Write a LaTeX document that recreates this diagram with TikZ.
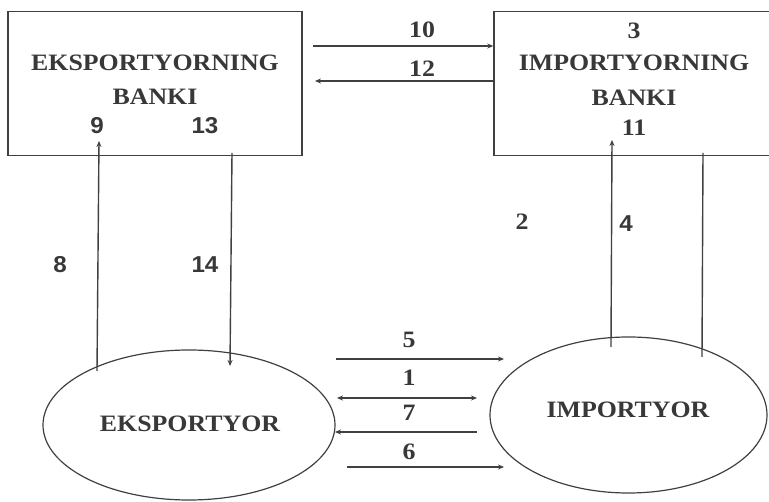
\documentclass[tikz,border=0pt]{standalone}
\usepackage{fontspec}
\setmainfont{Liberation Serif}[FakeStretch=1.1]
\newfontfamily\numsans{Liberation Sans}[FakeStretch=1.05]
\usetikzlibrary{arrows.meta,shapes.geometric}
\definecolor{ink}{HTML}{404040}
\definecolor{txt}{HTML}{383838}
\tikzset{
  conn/.style={draw=ink, line width=1.4pt},
  tip/.style={-{Stealth[length=6pt,width=5pt]}},
  lbl/.style={text=txt, font=\fontsize{23.5}{26}\selectfont\bfseries, inner sep=0pt},
  lbls/.style={text=txt, font=\fontsize{23}{26}\selectfont\numsans\bfseries, inner sep=0pt},
  boxst/.style={draw=ink, line width=1.4pt, rectangle, inner sep=0pt},
  ellst/.style={draw=ink, line width=1.2pt, ellipse, inner sep=0pt}
}
\begin{document}
\begin{tikzpicture}[x=1pt,y=-1pt]
\useasboundingbox (0,0) rectangle (769,502);
% boxes
\node[boxst, minimum width=294pt, minimum height=144pt] (eb) at (155,83.5) {};
\node[boxst, minimum width=281pt, minimum height=144pt] (ib) at (634.5,83.5) {};
% ellipses
\node[ellst, minimum width=292pt, minimum height=150pt] (ex) at (189,425) {};
\node[ellst, minimum width=277pt, minimum height=156pt] (im) at (628.5,415) {};
% texts
\node[lbl] (t1) at (155,63) {EKSPORTYORNING};
\node[lbl] (t2) at (155,97) {BANKI};
\node[lbls] (n9) at (97,126) {9};
\node[lbls] (n13) at (205,126) {13};
\node[lbl] (n3) at (634,31) {3};
\node[lbl] (t3) at (634,63) {IMPORTYORNING};
\node[lbl] (t4) at (634,98) {BANKI};
\node[lbl] (n11) at (634,128) {11};
\node[lbl] (t5) at (190,424) {EKSPORTYOR};
\node[lbl] (t6) at (628,410) {IMPORTYOR};
\node[lbl] (n10) at (422,30) {10};
\node[lbl] (n12) at (422,69) {12};
\node[lbls] (n8) at (60,265) {8};
\node[lbls] (n14) at (205,265) {14};
\node[lbl] (n2) at (522,222) {2};
\node[lbls] (n4) at (626,224) {4};
\node[lbl] (n5) at (409,340) {5};
\node[lbl] (n1) at (409,378) {1};
\node[lbl] (n7) at (409,413) {7};
\node[lbl] (n6) at (409,452) {6};
% connector coordinates
\coordinate (a10s) at (313,46);
\coordinate (a12e) at (315,81);
\coordinate (a8s) at (97,371);
\coordinate (a8e) at (99,141);
\coordinate (a14s) at (232,153);
\coordinate (a14e) at (230,366);
\coordinate (a4s) at (611,347);
\coordinate (a4e) at (612,140);
\coordinate (arS) at (703,153);
\coordinate (arE) at (702,357);
\coordinate (a5s) at (336,359);
\coordinate (a5e) at (504,359);
\coordinate (a1s) at (337,398);
\coordinate (a1e) at (477,398);
\coordinate (a7s) at (477,432);
\coordinate (a7e) at (335,432);
\coordinate (a6s) at (347,467);
\coordinate (a6e) at (504,467);
% connectors
\draw[conn,tip] (a10s) -- (ib.west |- a10s);
\draw[conn,tip] (ib.west |- a12e) -- (a12e);
\draw[conn,tip] (a8s) -- (a8e);
\draw[conn,tip] (a14s) -- (a14e);
\draw[conn,tip] (a4s) -- (a4e);
\draw[conn] (arS) -- (arE);
\draw[conn,tip] (a5s) -- (a5e);
\draw[conn,{Stealth[length=6pt,width=5pt]}-{Stealth[length=6pt,width=5pt]}] (a1s) -- (a1e);
\draw[conn,tip] (a7s) -- (a7e);
\draw[conn,tip] (a6s) -- (a6e);
\end{tikzpicture}
\end{document}
